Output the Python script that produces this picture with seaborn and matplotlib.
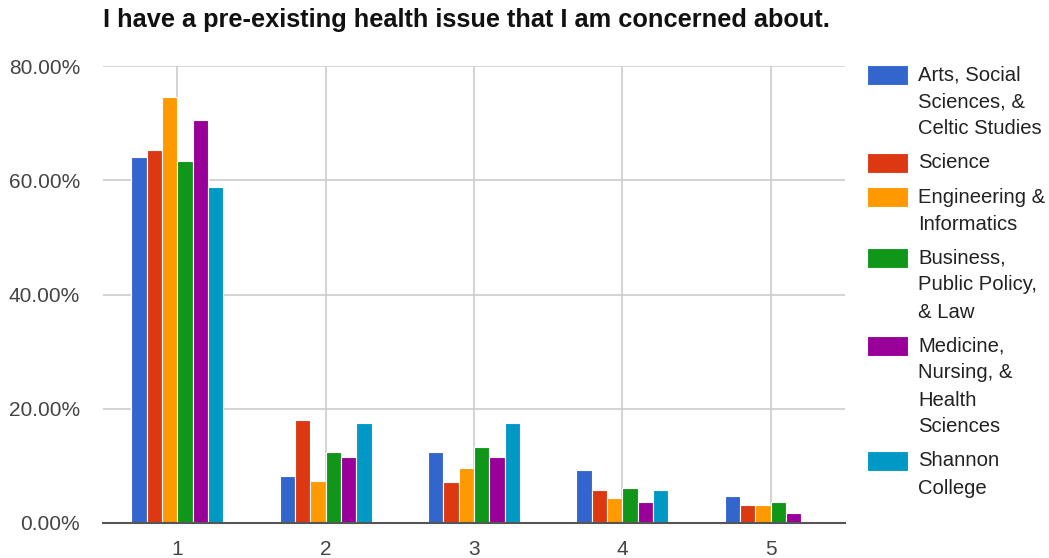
import matplotlib
matplotlib.use("Agg")
import matplotlib.pyplot as plt
from matplotlib.patches import Rectangle
import seaborn as sns
import pandas as pd

title = "I have a pre-existing health issue that I am concerned about."
categories = ["1", "2", "3", "4", "5"]
series_names = [
    "Arts, Social Sciences, & Celtic Studies",
    "Science",
    "Engineering & Informatics",
    "Business, Public Policy, & Law",
    "Medicine, Nursing, & Health Sciences",
    "Shannon College",
]
legend_lines = [
    ["Arts, Social", "Sciences, &", "Celtic Studies"],
    ["Science"],
    ["Engineering &", "Informatics"],
    ["Business,", "Public Policy,", "& Law"],
    ["Medicine,", "Nursing, &", "Health", "Sciences"],
    ["Shannon", "College"],
]
arts = [64.1, 8.2, 12.4, 9.3, 4.8]
science = [65.3, 18.0, 7.1, 5.7, 3.1]
engineering = [74.5, 7.4, 9.6, 4.3, 3.1]
business = [63.3, 12.4, 13.3, 6.2, 3.6]
medicine = [70.6, 11.6, 11.6, 3.6, 1.7]
shannon = [58.8, 17.5, 17.5, 5.7, 0.0]
colors = ["#3366cc", "#dc3912", "#ff9900", "#109618", "#990099", "#0099c6"]

rows = []
for name, vals in zip(series_names, [arts, science, engineering, business, medicine, shannon]):
    for c, v in zip(categories, vals):
        rows.append({"cat": c, "series": name, "value": v})
df = pd.DataFrame(rows)

sns.set_style("white")
plt.rcParams["font.family"] = ["Liberation Sans", "DejaVu Sans"]

fig = plt.figure(figsize=(10.49, 5.58), dpi=100)
ax = fig.add_axes([103 / 1049, 1 - 523 / 558, (845 - 103) / 1049, (523 - 66) / 558])

sns.barplot(data=df, x="cat", y="value", hue="series", order=categories,
            hue_order=series_names, palette=colors, width=0.62,
            edgecolor="white", linewidth=0.8, saturation=1, ax=ax, legend=False)

ax.set_ylim(0, 80)
ax.set_xlim(-0.5, 4.5)
ax.set_yticks([0, 20, 40, 60, 80])
ax.set_yticklabels([f"{v:.2f}%" for v in [0, 20, 40, 60, 80]])
ax.grid(True, axis="both", color="#cccccc", linewidth=1.2)
ax.set_axisbelow(True)
for s in ["top", "right", "left"]:
    ax.spines[s].set_visible(False)
ax.spines["bottom"].set_color("#555555")
ax.spines["bottom"].set_linewidth(1.5)
ax.set_xlabel("")
ax.set_ylabel("")
ax.tick_params(axis="both", length=0, labelsize=15, colors="#444444")
ax.tick_params(axis="y", pad=16.5)
ax.tick_params(axis="x", pad=12)

fig.text(103 / 1049, 1 - 20 / 558, title, fontsize=18.3, fontweight="bold",
         color="#111111", ha="left", va="center")

# legend
y = 75
line_h = 27
for col, lines in zip(colors, legend_lines):
    fig.patches.append(Rectangle((867 / 1049, 1 - (y + 10) / 558), 41 / 1049, 20 / 558,
                                 transform=fig.transFigure, facecolor=col,
                                 edgecolor="white", linewidth=0.8))
    for i, ln in enumerate(lines):
        fig.text(918 / 1049, 1 - (y + i * line_h) / 558, ln, fontsize=14.6,
                 color="#222222", ha="left", va="center")
    y += len(lines) * line_h + 7

fig.savefig("out.png", dpi=100)
